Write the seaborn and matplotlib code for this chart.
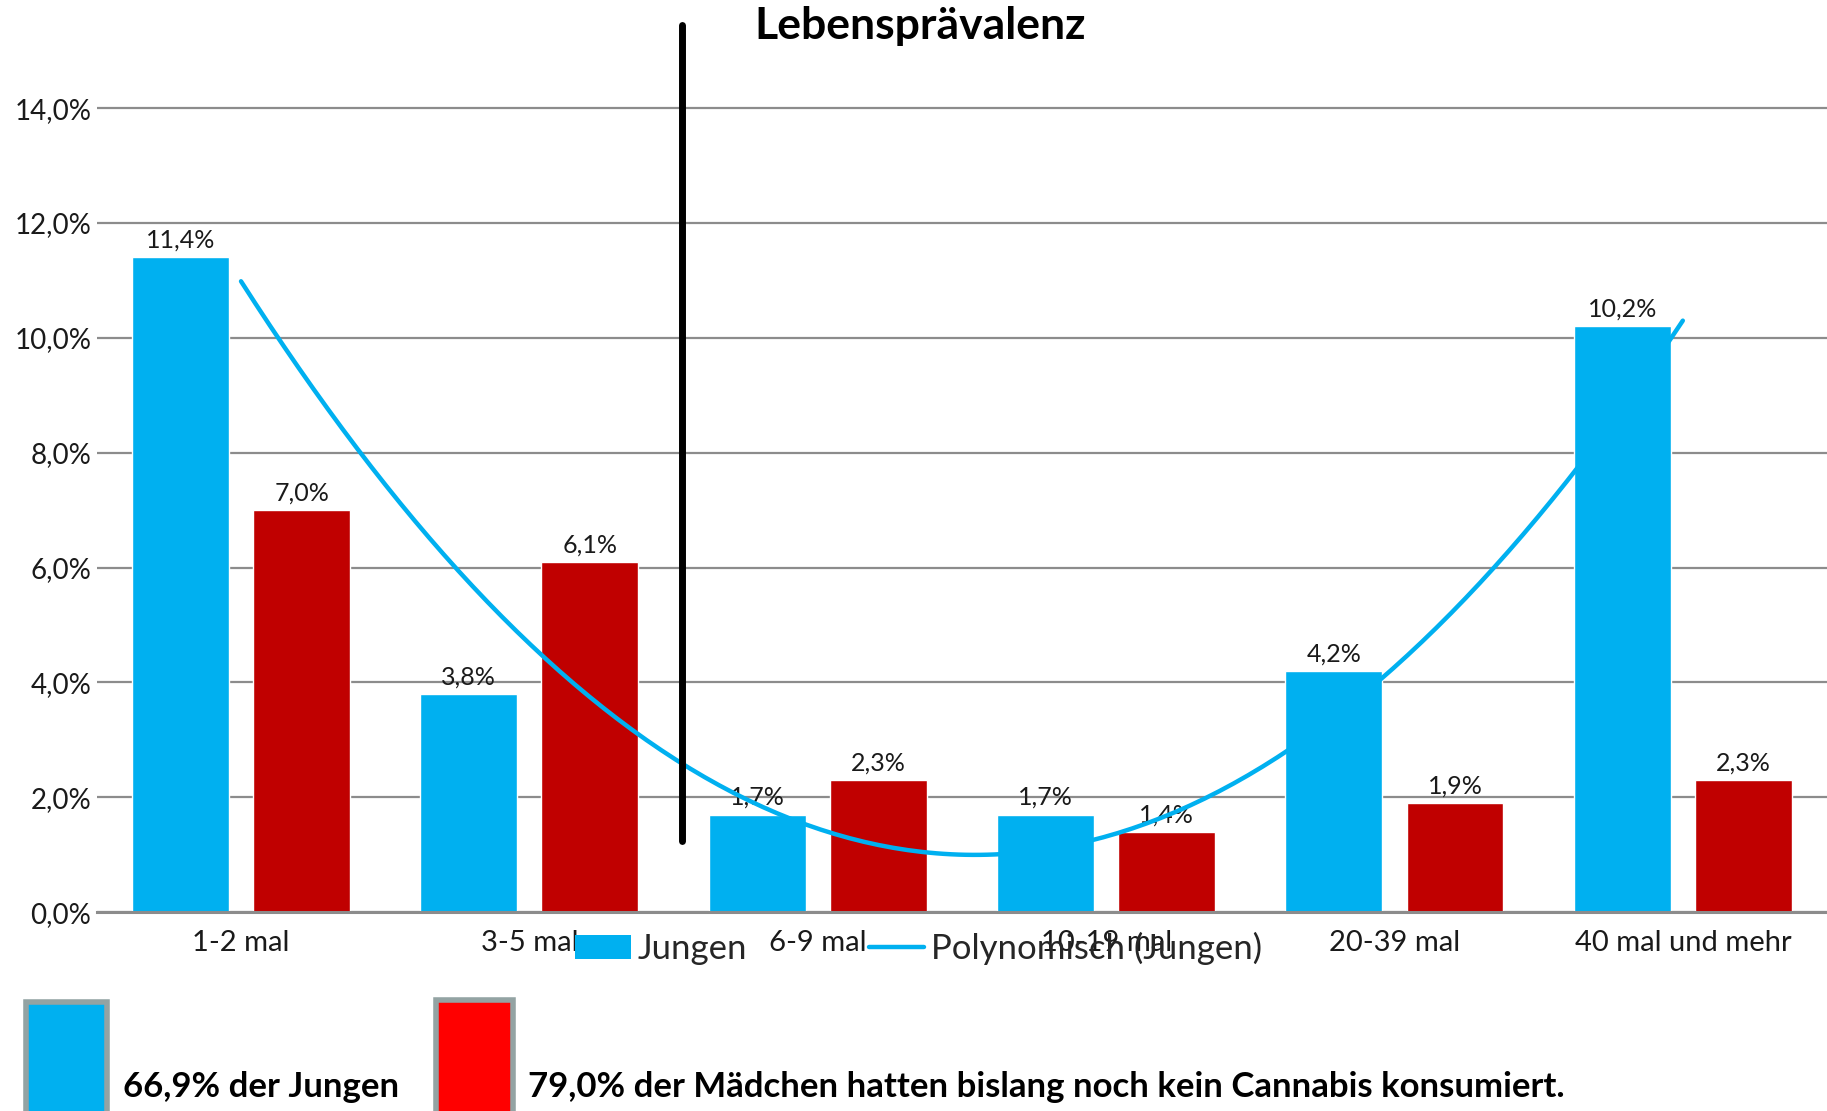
import numpy as np
import pandas as pd
import matplotlib
matplotlib.use("Agg")
import matplotlib.pyplot as plt
from matplotlib.patches import Patch, Rectangle
from matplotlib.lines import Line2D
import seaborn as sns

# Data
categories = ['1-2 mal', '3-5 mal', '6-9 mal', '10-19 mal', '20-39 mal', '40 mal und mehr']
jungen = [11.4, 3.8, 1.7, 1.7, 4.2, 10.2]
maedchen = [7.0, 6.1, 2.3, 1.4, 1.9, 2.3]
y_ticks = [0, 2, 4, 6, 8, 10, 12, 14]

BLUE = '#00B0F0'
RED = '#C00000'

sns.set_theme(style="white")
plt.rcParams['font.family'] = ['Lato', 'DejaVu Sans']

df = pd.DataFrame({
    'kategorie': categories * 2,
    'wert': jungen + maedchen,
    'gruppe': ['Jungen'] * len(categories) + ['Mädchen'] * len(categories),
})

fig = plt.figure(figsize=(18.27, 11.11), dpi=100)
ax = fig.add_axes([0.053, 0.179, 0.947, 0.765])

sns.barplot(data=df, x='kategorie', y='wert', hue='gruppe',
            palette={'Jungen': BLUE, 'Mädchen': RED},
            width=0.84, gap=0.2, saturation=1, legend=False, ax=ax)

# Data labels with German decimal comma
for cont in ax.containers:
    vals = [b.get_height() for b in cont]
    ax.bar_label(cont, labels=[f"{v:.1f}%".replace('.', ',') for v in vals],
                 padding=4, fontsize=18, color='#1a1a1a')

# Polynomial trend (order 2) of Jungen
x = np.arange(len(categories))
coef = np.polyfit(x, jungen, 2)
xs = np.linspace(0, len(categories) - 1, 200)
ax.plot(xs, np.polyval(coef, xs), color=BLUE, lw=3.2, zorder=5)

ax.set_xlim(-0.5, len(categories) - 0.5)
ax.set_ylim(0, 14.8)
ax.set_yticks(y_ticks)
ax.set_yticklabels([f"{t:.1f}%".replace('.', ',') for t in y_ticks])
ax.yaxis.grid(True, color='#8c8c8c', lw=1.6)
ax.set_axisbelow(True)
ax.set_xlabel('')
ax.set_ylabel('')
ax.tick_params(axis='y', length=0, pad=4, labelsize=20, labelcolor='#1a1a1a')
ax.tick_params(axis='x', length=0, pad=13, labelsize=21, labelcolor='#1a1a1a')
for s in ['top', 'right', 'left']:
    ax.spines[s].set_visible(False)
ax.spines['bottom'].set_color('#8c8c8c')
ax.spines['bottom'].set_linewidth(2.2)

# Black divider line
ax.plot([1.53, 1.53], [1.24, 15.45], color='black', lw=5, clip_on=False, zorder=6)

fig.text(0.5035, 0.977, 'Lebensprävalenz', ha='center', va='center',
         fontsize=32, fontweight='bold', color='black')

handles = [Patch(facecolor=BLUE, edgecolor='none'),
           Line2D([0], [0], color=BLUE, lw=3.2)]
fig.legend(handles, ['Jungen', 'Polynomisch (Jungen)'], loc='center',
           bbox_to_anchor=(0.503, 0.146), ncol=2, frameon=False,
           fontsize=25, handlelength=1.6, handletextpad=0.2, columnspacing=3.5)

# Bottom notes
fig.patches.append(Rectangle((0.0142, -0.02), 0.0444, 0.118, transform=fig.transFigure,
                             facecolor=BLUE, edgecolor='#93a3a3', lw=4))
fig.patches.append(Rectangle((0.2385, -0.02), 0.0425, 0.12, transform=fig.transFigure,
                             facecolor='#FF0000', edgecolor='#93a3a3', lw=4))
fig.text(0.0673, 0.013, '66,9% der Jungen', ha='left', va='baseline',
         fontsize=25, fontweight='bold', color='black')
fig.text(0.289, 0.013, '79,0% der Mädchen hatten bislang noch kein Cannabis konsumiert.',
         ha='left', va='baseline', fontsize=25, fontweight='bold', color='black')

fig.savefig('out.png', dpi=100)
